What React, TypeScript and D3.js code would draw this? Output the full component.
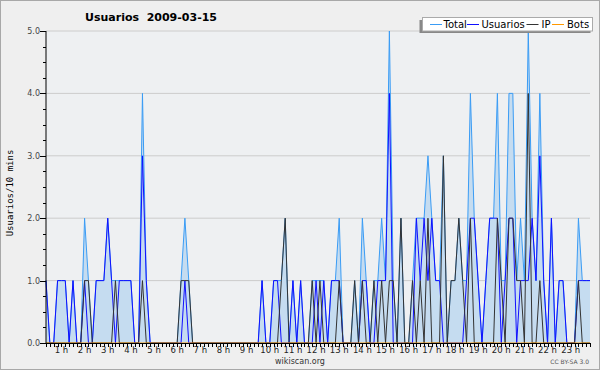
import React from "react";
import * as d3 from "d3";

const W = 600;
const H = 370;

// 10-minute slots (142 points)
const usuarios = [
  1,0,0,1,1,1,0,1,0,0,
  1,0,0,1,1,1,2,1,0,1,
  1,1,1,0,0,3,1,0,0,0,
  0,0,0,0,0,0,1,0,0,0,
  0,0,0,0,0,0,0,0,0,0,
  0,0,0,0,0,0,1,0,0,1,
  1,0,0,0,1,0,1,0,0,0,
  1,0,1,0,1,1,1,0,0,0,
  0,0,1,1,0,0,1,1,1,4,
  0,0,0,0,0,0,2,1,2,1,
  2,1,1,0,0,0,0,0,0,1,
  2,2,1,0,1,2,2,2,0,1,
  2,2,0,1,1,1,2,1,3,1,
  0,2,0,1,1,0,0,0,1,1,
  1,1,
];

const ip = [
  0,0,0,0,0,0,0,0,0,0,
  1,1,0,0,0,0,0,0,1,0,
  0,0,0,0,0,1,0,0,0,0,
  0,0,0,0,0,1,1,1,0,0,
  0,0,0,0,0,0,0,0,0,0,
  0,0,0,0,0,0,0,0,0,0,
  0,1,2,0,0,0,0,0,0,1,
  0,1,0,0,0,0,1,0,0,0,
  1,0,1,0,0,1,0,1,0,1,
  1,0,2,0,0,1,0,1,0,2,
  0,0,0,3,0,1,1,2,1,0,
  2,0,0,0,0,0,0,2,1,0,
  2,2,1,1,0,4,0,0,1,0,
  0,0,0,0,0,0,0,0,1,0,
  0,0,
];

const total = [
  1,0,0,1,1,1,0,1,0,0,
  2,1,0,1,1,1,2,1,1,1,
  1,1,1,0,0,4,1,0,0,0,
  0,0,0,0,0,1,2,1,0,0,
  0,0,0,0,0,0,0,0,0,0,
  0,0,0,0,0,0,1,0,0,1,
  1,1,2,0,1,0,1,0,0,1,
  1,1,1,0,1,1,2,0,0,0,
  1,0,2,1,0,1,1,2,1,5,
  1,0,2,0,0,1,2,2,2,3,
  2,1,1,3,0,1,1,2,1,1,
  4,2,1,0,1,2,2,4,1,1,
  4,4,1,2,1,5,2,1,4,1,
  0,2,0,1,1,0,0,0,2,1,
  1,1,
];

const bots = total.map(() => 0);

const hourLabels = d3.range(1, 24).map((h) => `${h} h`);
const yTicks = [0, 1, 2, 3, 4, 5];
const yMinor = d3.range(0, 5.001, 0.25);

const legendItems = [
  { name: "Total", color: "#3a9cf5", lx: 430, tx: 443.5 },
  { name: "Usuarios", color: "#1010ff", lx: 467, tx: 481.5 },
  { name: "IP", color: "#333333", lx: 526.5, tx: 541.5 },
  { name: "Bots", color: "#ff9900", lx: 552, tx: 567 },
];

export default function App() {
  const x0 = 46, x1 = 590, yTop = 31, yBot = 343;
  const x = d3.scaleLinear().domain([0, total.length - 1]).range([x0, x1]);
  const y = d3.scaleLinear().domain([0, 5]).range([yBot, yTop]);
  const idx = d3.range(total.length);

  const line = (arr: number[]) =>
    d3.line<number>().x((i) => x(i)).y((i) => y(arr[i]))(idx) || "";
  const area =
    d3.area<number>().x((i) => x(i)).y0(y(0)).y1((i) => y(total[i]))(idx) || "";

  const sans = "'DejaVu Sans', sans-serif";

  return (
    <svg
      width={W}
      height={H}
      style={{ position: "absolute", left: 0, top: 0 }}
      xmlns="http://www.w3.org/2000/svg"
    >
      <rect x={0} y={0} width={W} height={H} fill="#efefef" />
      <rect x={0.5} y={0.5} width={W - 1} height={H - 1} fill="none" stroke="#a8a8a8" />
      <rect x={x0} y={yTop} width={x1 - x0} height={yBot - yTop} fill="#eef0f2" />

      {/* grid */}
      {yTicks.slice(1).map((t) => (
        <line key={t} x1={x0} x2={x1} y1={y(t)} y2={y(t)} stroke="#cccccc" />
      ))}

      {/* series */}
      <path d={area} fill="#c5dcf0" />
      <path d={line(total)} fill="none" stroke="#3a9cf5" strokeWidth={1} />
      <path d={line(usuarios)} fill="none" stroke="#1010ff" strokeWidth={1} />
      <path d={line(ip)} fill="none" stroke="#333333" strokeWidth={1} />
      <path d={line(bots)} fill="none" stroke="#ff9900" strokeWidth={1} />

      {/* axes */}
      <line x1={x0} x2={x0} y1={yTop} y2={yBot} stroke="#000" />
      <line x1={x0} x2={x1} y1={yBot + 0.5} y2={yBot + 0.5} stroke="#000" />
      {yMinor.map((t) => (
        <line
          key={t}
          x1={Number.isInteger(t) ? x0 - 6 : x0 - 3}
          x2={x0}
          y1={Math.round(y(t)) + 0.5}
          y2={Math.round(y(t)) + 0.5}
          stroke="#000"
        />
      ))}
      {yTicks.map((t) => (
        <text
          key={t}
          x={40}
          y={y(t) + 3}
          textAnchor="end"
          fontFamily={sans}
          fontSize={8}
          fill="#444"
        >
          {t.toFixed(1)}
        </text>
      ))}
      {idx.map((i) => (
        <line
          key={i}
          x1={Math.round(x(i)) + 0.5}
          x2={Math.round(x(i)) + 0.5}
          y1={yBot}
          y2={yBot + 4}
          stroke="#000"
        />
      ))}
      {hourLabels.map((lab, k) => (
        <text
          key={lab}
          x={x((k + 1) * 6 - 2)}
          y={353}
          textAnchor="middle"
          fontFamily={sans}
          fontSize={8.5}
          fill="#222"
        >
          {lab}
        </text>
      ))}

      {/* y title */}
      <text
        transform={`translate(13,193) rotate(-90)`}
        textAnchor="middle"
        fontFamily="'DejaVu Sans Mono', monospace"
        fontSize={9}
        fill="#000"
      >
        Usuarios/10 mins
      </text>

      {/* title */}
      <text
        x={151}
        y={21}
        textAnchor="middle"
        fontFamily={sans}
        fontWeight="bold"
        fontSize={11}
        fill="#000"
        style={{ whiteSpace: "pre" }}
      >
        {"Usuarios  2009-03-15"}
      </text>

      {/* legend */}
      <rect x={419.5} y={20} width={171} height={13} fill="#888" />
      <rect x={422.5} y={17.5} width={170} height={13.5} fill="#fff" stroke="#aaa" />
      {legendItems.map((it) => (
        <g key={it.name}>
          <line x1={it.lx} x2={it.lx + 12} y1={24.5} y2={24.5} stroke={it.color} />
          <text x={it.tx} y={28} fontFamily={sans} fontSize={10} fill="#000">
            {it.name}
          </text>
        </g>
      ))}

      {/* footer */}
      <text x={300} y={364} textAnchor="middle" fontFamily={sans} fontSize={8} fill="#333">
        wikiscan.org
      </text>
      <text x={589} y={364} textAnchor="end" fontFamily={sans} fontSize={6} fill="#555">
        CC BY-SA 3.0
      </text>
    </svg>
  );
}
